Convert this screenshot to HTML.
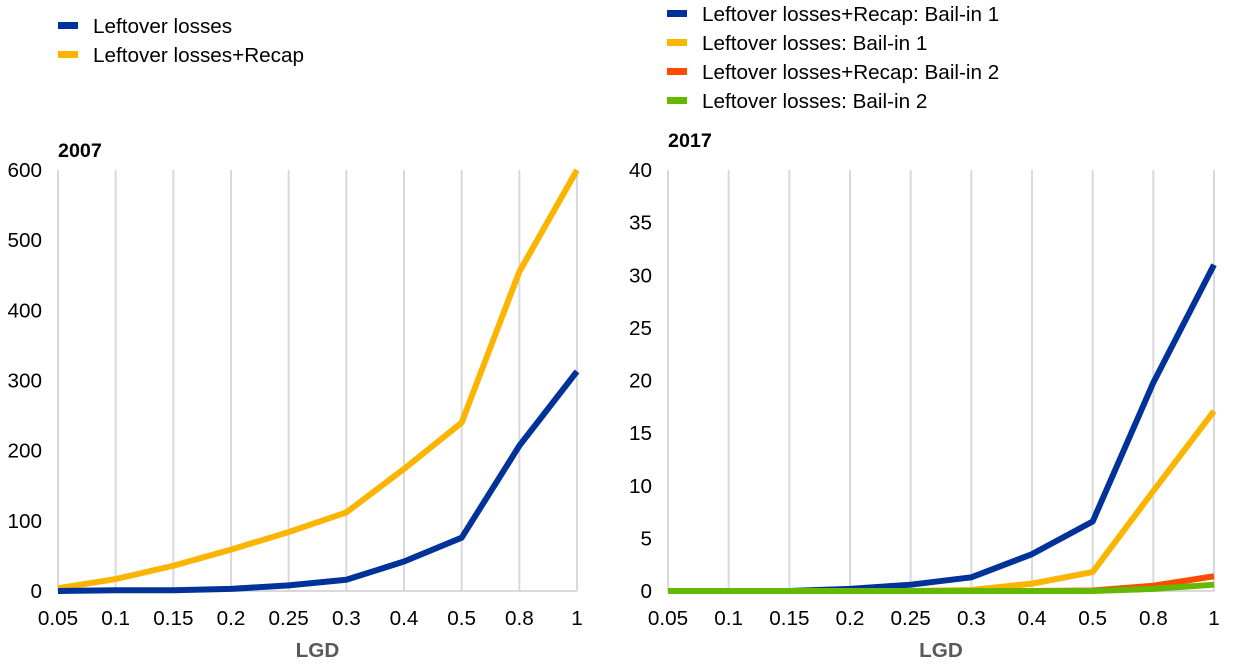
<!DOCTYPE html>
<html><head><meta charset="utf-8"><style>
body{margin:0;background:#fff;width:1240px;height:662px;overflow:hidden;font-family:"Liberation Sans",Arial,sans-serif}
svg text{font-family:"Liberation Sans",Arial,sans-serif}
</style></head><body>
<svg id="c" width="1240" height="662"></svg>
<script>
const cats=["0.05","0.1","0.15","0.2","0.25","0.3","0.4","0.5","0.8","1"];
const leftTicks=[0,100,200,300,400,500,600];
const rightTicks=[0,5,10,15,20,25,30,35,40];
const leftBlue=[0,1,1,3,8,16,42,76,207,313];
const leftOrange=[4,17,36,59,84,112,174,240,455,600];
const rightBlue=[0,0,0,0.2,0.6,1.3,3.5,6.6,19.8,31];
const rightOrange=[0,0,0,0,0,0.1,0.7,1.8,9.5,17.1];
const rightRed=[0,0,0,0,0,0,0,0.05,0.5,1.4];
const rightGreen=[0,0,0,0,0,0,0,0,0.2,0.6];
const FS=20.7;
const NS="http://www.w3.org/2000/svg";
const svg=document.getElementById('c');
function mk(t,a,p){const e=document.createElementNS(NS,t);for(const k in a)e.setAttribute(k,a[k]);(p||svg).appendChild(e);return e;}
function panel(x0,x1,y0,y1,max,ticks,series,title,nm,ty){
  const g=mk('g',{});
  
  
  const xs=i=>x0+(x1-x0)*i/(cats.length-1);
  const ys=v=>y1-(y1-y0)*v/max;
  cats.forEach((c,i)=>{
    const l=mk('line',{x1:xs(i),x2:xs(i),y1:y0,y2:y1,stroke:'#d9d9d9','stroke-width':2},g);
    
    
    const t=mk('text',{x:xs(i),y:y1+34,'text-anchor':'middle','font-size':FS,fill:'#000'},g);
    t.textContent=c;
    
    
  });
  ticks.forEach(v=>{
    const t=mk('text',{x:x0-16,y:ys(v)+7,'text-anchor':'end','font-size':FS,fill:'#000'},g);
    t.textContent=v;
    
    
  });
  const ax=mk('line',{x1:x0,x2:x1,y1:y1,y2:y1,stroke:'#d9d9d9','stroke-width':2},g);
  
  
  series.forEach(s=>{
    const p=mk('polyline',{points:s.d.map((v,i)=>xs(i)+','+ys(v)).join(' '),fill:'none',stroke:s.c,'stroke-width':6,'stroke-linejoin':'round'},g);
    
    
  });
  const tt=mk('text',{x:x0,y:ty,'font-size':FS-1,'font-weight':'bold'},g);
  tt.textContent=title;
  
  
  const xl=mk('text',{x:(x0+x1)/2,y:y1+66,'text-anchor':'middle','font-size':FS,'font-weight':'bold',fill:'#595959'},g);
  xl.textContent='LGD';
  
  
}
panel(58,577,170,591,600,leftTicks,[{d:leftOrange,c:'#fbb400',n:'line-leftover-losses-recap'},{d:leftBlue,c:'#003299',n:'line-leftover-losses'}],'2007','left-panel',157);
panel(668,1214,170,591,40,rightTicks,[{d:rightOrange,c:'#fbb400',n:'line-bail-in-1'},{d:rightBlue,c:'#003299',n:'line-recap-bail-in-1'},{d:rightRed,c:'#ff4b00',n:'line-recap-bail-in-2'},{d:rightGreen,c:'#65b800',n:'line-bail-in-2'}],'2017','right-panel',147);
function legend(x,y,items){
  items.forEach((it,i)=>{
    const g=mk('g',{});
    
    
    mk('rect',{x:x,y:y+i*29-4,width:20,height:7,fill:it[1]},g);
    const t=mk('text',{x:x+35,y:y+i*29+7,'font-size':FS},g);
    t.textContent=it[0];
  });
}
legend(58,26,[["Leftover losses",'#003299'],["Leftover losses+Recap",'#fbb400']]);
legend(667,14,[["Leftover losses+Recap: Bail-in 1",'#003299'],["Leftover losses: Bail-in 1",'#fbb400'],["Leftover losses+Recap: Bail-in 2",'#ff4b00'],["Leftover losses: Bail-in 2",'#65b800']]);
</script>
</body></html>
